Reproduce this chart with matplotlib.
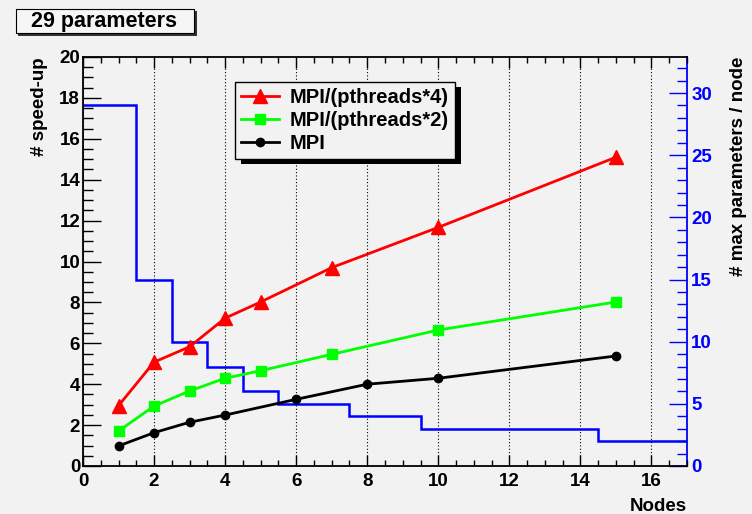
import numpy as np
import matplotlib
matplotlib.use("Agg")
import matplotlib.pyplot as plt
from matplotlib.patches import Rectangle
from matplotlib.ticker import MultipleLocator

plt.rcParams['font.family'] = ['Liberation Sans', 'DejaVu Sans']
plt.rcParams['font.weight'] = 'bold'

# speed-up curves
nodes_p4 = [1, 2, 3, 4, 5, 7, 10, 15]
speed_p4 = [2.95, 5.08, 5.83, 7.23, 8.02, 9.70, 11.67, 15.1]
nodes_p2 = [1, 2, 3, 4, 5, 7, 10, 15]
speed_p2 = [1.71, 2.93, 3.67, 4.29, 4.66, 5.46, 6.65, 8.02]
nodes_mpi = [1, 2, 3, 4, 6, 8, 10, 15]
speed_mpi = [0.98, 1.63, 2.14, 2.49, 3.26, 4.0, 4.29, 5.38]

# max parameters per node (step histogram)
hist_nodes = list(range(1, 17))
max_params = [29, 15, 10, 8, 6, 5, 5, 4, 4, 3, 3, 3, 3, 3, 2, 2]

BG = '#f2f2f2'
W, H = 752, 514
FS = 13.5

fig = plt.figure(figsize=(W / 100, H / 100), dpi=100, facecolor=BG)

def px_rect(x0, y0, x1, y1, **kw):
    # rectangle given in pixel coords measured from the top-left corner
    return Rectangle((x0 / W, 1 - y1 / H), (x1 - x0) / W, (y1 - y0) / H,
                     transform=fig.transFigure, **kw)

ax = fig.add_axes([83 / W, 1 - 466 / H, (687 - 83) / W, (466 - 57) / H])
ax2 = ax.twinx()
ax.set_zorder(ax2.get_zorder() + 1)
ax.patch.set_visible(False)
ax2.patch.set_facecolor(BG)

# blue histogram on the right axis
edges = [0] + [n + 0.5 for n in hist_nodes[:-1]] + [17]
ax2.stairs(max_params, edges, baseline=None, color='#0000ff', linewidth=1.8)
ax2.set_ylim(0, 32.9)
ax2.yaxis.set_major_locator(MultipleLocator(5))
ax2.yaxis.set_minor_locator(MultipleLocator(1))
ax2.tick_params(axis='y', which='both', direction='in', colors='#0000ff',
                labelsize=FS, pad=3)
ax2.tick_params(axis='y', which='major', length=13, width=1)
ax2.tick_params(axis='y', which='minor', length=7, width=1)
for lab in ax2.get_yticklabels():
    lab.set_fontweight('bold')
ax2.spines['right'].set_color('#0000ff')
ax2.spines['right'].set_linewidth(1.3)
for s in ['left', 'top', 'bottom']:
    ax2.spines[s].set_visible(False)

# speed-up graphs
ax.plot(nodes_p4, speed_p4, color='#ff0000', linewidth=2, marker='^',
        markersize=10, label='MPI/(pthreads*4)', clip_on=False)
ax.plot(nodes_p2, speed_p2, color='#00ff00', linewidth=2, marker='s',
        markersize=7.5, label='MPI/(pthreads*2)', clip_on=False)
ax.plot(nodes_mpi, speed_mpi, color='black', linewidth=2, marker='o',
        markersize=6, label='MPI', clip_on=False)

ax.set_xlim(0, 17)
ax.set_ylim(0, 20)
ax.xaxis.set_major_locator(MultipleLocator(2))
ax.xaxis.set_minor_locator(MultipleLocator(0.5))
ax.yaxis.set_major_locator(MultipleLocator(2))
ax.yaxis.set_minor_locator(MultipleLocator(0.5))
ax.tick_params(axis='y', which='major', direction='in', length=13, width=1,
               labelsize=FS, pad=2, right=False)
ax.tick_params(axis='y', which='minor', direction='in', length=7, width=1, right=False)
ax.tick_params(axis='x', which='major', direction='in', length=8, width=1,
               labelsize=FS, pad=5, top=True)
ax.tick_params(axis='x', which='minor', direction='in', length=4.5, width=1, top=True)
for lab in ax.get_xticklabels() + ax.get_yticklabels():
    lab.set_fontweight('bold')
ax.grid(axis='x', which='major', linestyle=(0, (1, 2)), color='black', linewidth=0.8)
for s in ['left', 'top', 'bottom']:
    ax.spines[s].set_linewidth(1.3)
ax.spines['right'].set_visible(False)

ax.set_ylabel('# speed-up', fontsize=FS, fontweight='bold', loc='top', labelpad=8)
ax.set_xlabel('Nodes', fontsize=FS, fontweight='bold', loc='right', labelpad=6)
ax2.set_ylabel('# max parameters / node', fontsize=FS, fontweight='bold',
               loc='top', labelpad=13, color='black')

leg = ax.legend(loc='upper left', bbox_to_anchor=(235 / W, 1 - 82 / H),
                bbox_transform=fig.transFigure, fontsize=14.5, frameon=True,
                fancybox=False, edgecolor='black', facecolor=BG, framealpha=1,
                handlelength=1.9, handletextpad=0.5, borderpad=0.3,
                labelspacing=0.2, borderaxespad=0)
leg.get_frame().set_linewidth(1.0)
for t in leg.get_texts():
    t.set_fontweight('bold')

# legend shadow
fig.canvas.draw()
bb = leg.get_window_extent()
x0, x1 = bb.x0, bb.x1
y0, y1 = H - bb.y1, H - bb.y0
ax.add_patch(Rectangle(((x0 + 6) / W, 1 - (y1 + 5) / H), (x1 - x0) / W, (y1 - y0) / H,
                       transform=fig.transFigure, facecolor='black', edgecolor='none',
                       zorder=leg.get_zorder() - 1, clip_on=False))

# title box with shadow
fig.patches.append(px_rect(18, 11, 197, 36, facecolor='#333333', edgecolor='none'))
fig.patches.append(px_rect(16, 9, 194, 33, facecolor='#f6f6f6', edgecolor='black',
                           linewidth=0.8))
fig.text(31 / W, 1 - 21.5 / H, '29 parameters', fontsize=15.5, fontweight='bold',
         ha='left', va='center')

fig.savefig('out.png', dpi=100, facecolor=BG)
